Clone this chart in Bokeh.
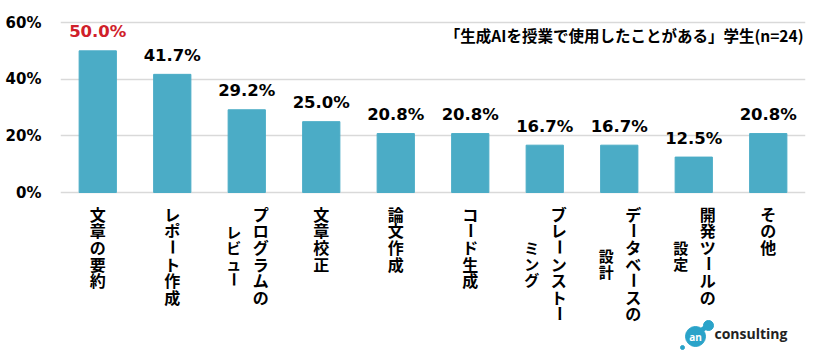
import math
from bokeh.plotting import figure
from bokeh.models import ColumnDataSource, Range1d, FactorRange, FixedTicker
from bokeh.embed import file_html
from bokeh.resources import INLINE
from bokeh.core.properties import value

# ---- data ----
categories = [
    "文章の要約",
    "レポート作成",
    "プログラムの\nレビュー",
    "文章校正",
    "論文作成",
    "コード生成",
    "ブレーンストー\nミング",
    "データベースの\n設計",
    "開発ツールの\n設定",
    "その他",
]
values = [50.0, 41.7, 29.2, 25.0, 20.8, 20.8, 16.7, 16.7, 12.5, 20.8]
tick_values = [0, 20, 40, 60]
tick_labels = ["0%", "20%", "40%", "60%"]
title_text = "「生成AIを授業で使用したことがある」学生(n=24)"
highlight_index = 0

# ---- styles ----
BAR_COLOR = "#4bacc6"
RED = "#d0202a"
GRID = "#d9d9d9"
JP = "Noto Sans CJK JP"
NUM = "DejaVu Sans"
W, H = 810, 350
FRAME_L, FRAME_R = 60.0, 805.0
STEP = (FRAME_R - FRAME_L) / len(categories)
Y0, Y60 = 192.0, 22.0          # page y of 0% and 60%
PX_PER = (Y0 - Y60) / 60.0


def pagex(px):
    """Categorical coordinate (anchor factor + offset) for a page-pixel x position."""
    anchor = categories[-1]
    center = FRAME_L + STEP * (len(categories) - 0.5)
    return (anchor, (px - center) / STEP)


p = figure(
    width=W, height=H,
    x_range=FactorRange(*categories),
    y_range=Range1d(-(H - Y0) / PX_PER, Y0 / PX_PER),
    x_axis_location=None,
    output_backend="svg", toolbar_location=None,
    min_border_left=int(FRAME_L), min_border_right=int(W - FRAME_R),
    min_border_top=0, min_border_bottom=0,
)
p.extra_y_ranges = {"py": Range1d(H, 0)}
p.outline_line_color = None
p.background_fill_color = "white"
p.border_fill_color = "white"

p.xgrid.visible = False
p.ygrid.ticker = FixedTicker(ticks=tick_values)
p.ygrid.grid_line_color = GRID
p.ygrid.grid_line_width = 1.5

ya = p.yaxis[0]
ya.ticker = FixedTicker(ticks=tick_values)
ya.major_label_overrides = {v: l for v, l in zip(tick_values, tick_labels)}
ya.axis_line_color = None
ya.major_tick_line_color = None
ya.minor_tick_line_color = None
ya.major_label_text_font = NUM
ya.major_label_text_font_style = "bold"
ya.major_label_text_font_size = "15px"
ya.major_label_text_color = "black"
ya.major_label_standoff = 13

# bars
src = ColumnDataSource(dict(
    x=categories, top=values,
    label=["%.1f%%" % v for v in values],
    color=[RED if i == highlight_index else "black" for i in range(len(values))],
))
p.vbar(x="x", top="top", bottom=0, width=0.5, color=BAR_COLOR, source=src)
p.text(x="x", y="top", text="label", text_color="color", source=src,
       text_font=value(NUM), text_font_style="bold", text_font_size="16.5px",
       text_align="center", text_baseline="alphabetic", y_offset=-19)

# vertical category labels (tategaki, one glyph per character)
main = dict(x=[], y=[], t=[], a=[], xo=[])
sub = dict(x=[], y=[], t=[], a=[], xo=[])
TOP, PITCH, SUB_PITCH = 205.0, 16.6, 16.0
for cat in categories:
    cols = cat.split("\n")
    n0 = len(cols[0])
    for k, ch in enumerate(cols[0]):
        main["x"].append(cat)
        main["y"].append(TOP + PITCH / 2 + k * PITCH)
        main["t"].append(ch)
        main["a"].append(math.pi / 2 if ch == "ー" else 0.0)
        main["xo"].append(14 if len(cols) > 1 else 0)
    if len(cols) > 1:
        center = TOP + n0 * PITCH / 2
        m = len(cols[1])
        for k, ch in enumerate(cols[1]):
            sub["x"].append(cat)
            sub["y"].append(center + (k - (m - 1) / 2) * SUB_PITCH)
            sub["t"].append(ch)
            sub["a"].append(math.pi / 2 if ch == "ー" else 0.0)
            sub["xo"].append(-13)

p.text(x="x", y="y", text="t", angle="a", x_offset="xo", source=ColumnDataSource(main),
       y_range_name="py", text_font=value(JP), text_font_style="bold",
       text_font_size="16px", text_align="center", text_baseline="middle",
       text_color="black")
p.text(x="x", y="y", text="t", angle="a", x_offset="xo", source=ColumnDataSource(sub),
       y_range_name="py", text_font=value(JP), text_font_style="bold",
       text_font_size="15px", text_align="center", text_baseline="middle",
       text_color="black")

# title
p.text(x=[pagex(803)], y=[34], text=[title_text], y_range_name="py",
       text_font=value(JP), text_font_style="bold", text_font_size="15.5px",
       text_align="right", text_baseline="middle", text_color="black")

# logo
LOGO = "#2aa3c9"
p.segment(x0=[pagex(699)], y0=[331], x1=[pagex(708)], y1=[325], line_width=5,
          line_color=LOGO, y_range_name="py")
p.scatter(x=[pagex(695), pagex(708), pagex(682)], y=[336, 325, 347], size=[20, 10, 4],
          color=LOGO, y_range_name="py")
p.text(x=[pagex(695)], y=[336.5], text=["an"], y_range_name="py",
       text_font=value("Open Sans"), text_font_style="bold", text_font_size="10px",
       text_color="white", text_align="center", text_baseline="middle")
p.text(x=[pagex(714)], y=[333], text=["consulting"], y_range_name="py",
       text_font=value("Open Sans"), text_font_style="bold", text_font_size="14px",
       text_color="#222222", text_align="left", text_baseline="middle")

open("out.html", "w").write(file_html(p, INLINE))
